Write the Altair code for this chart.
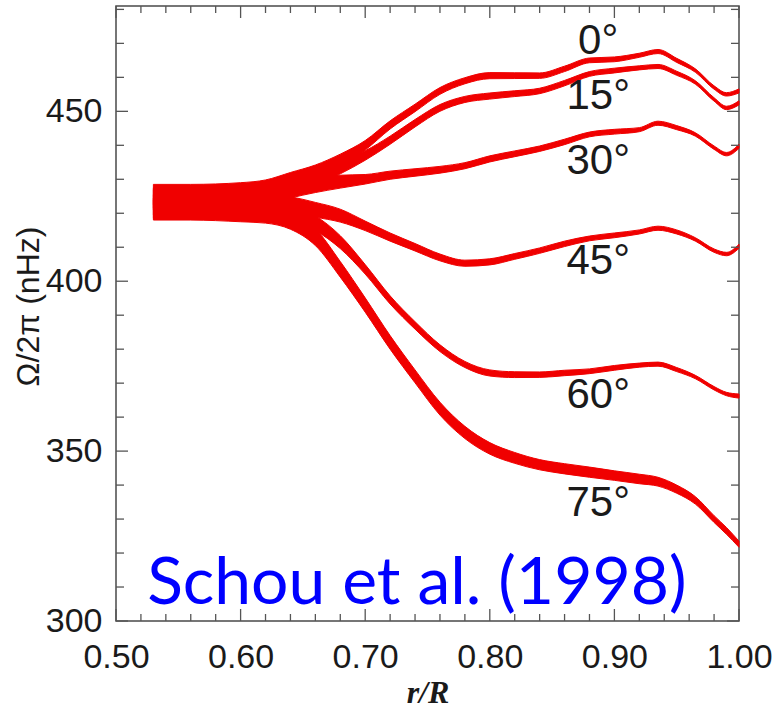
import altair as alt
import pandas as pd

# radius grid (r/R)
r = [0.53, 0.56, 0.60, 0.62, 0.64, 0.66, 0.68, 0.70, 0.72, 0.74, 0.76, 0.78, 0.80,
     0.82, 0.84, 0.86, 0.88, 0.90, 0.92, 0.935, 0.95, 0.965, 0.98, 0.99, 1.00]

# rotation rate Omega/2pi (nHz), band centres per latitude
lat0 = [425.5, 425.5, 426.0, 427.0, 429.5, 432.0, 435.5, 440.0, 446.0, 451.0, 456.0, 459.0, 460.5,
        460.5, 460.5, 462.5, 465.0, 465.3, 466.5, 467.6, 465.0, 462.0, 457.0, 455.0, 456.0]
lat15 = [424.5, 424.5, 425.0, 426.0, 428.0, 430.5, 433.5, 437.0, 441.5, 446.5, 451.0, 453.5, 454.5,
         455.2, 456.0, 458.3, 461.0, 462.0, 462.8, 463.2, 461.2, 458.5, 453.5, 451.0, 452.5]
lat30 = [424.0, 424.0, 424.5, 425.5, 427.0, 428.3, 429.3, 430.0, 431.2, 432.0, 432.8, 434.0, 436.0,
         437.5, 439.0, 441.0, 443.2, 444.0, 444.6, 446.5, 445.2, 443.2, 439.3, 437.4, 439.7]
lat45 = [422.5, 422.5, 422.5, 422.5, 422.3, 421.0, 419.3, 416.3, 413.0, 410.0, 407.0, 405.3, 405.7,
         407.3, 409.0, 411.0, 412.6, 413.5, 414.5, 415.6, 414.5, 412.3, 409.0, 408.0, 410.3]
lat60 = [421.5, 421.5, 421.5, 421.0, 419.5, 417.0, 411.5, 403.5, 394.5, 387.0, 380.3, 375.5, 373.0,
         372.5, 372.5, 373.0, 373.5, 374.5, 375.3, 375.6, 374.0, 371.8, 368.5, 366.8, 366.2]
lat75 = [421.0, 421.0, 420.5, 420.0, 418.0, 413.0, 403.5, 393.0, 382.0, 372.0, 362.5, 355.5, 350.8,
         348.0, 346.0, 344.8, 343.8, 342.8, 341.8, 341.0, 338.8, 335.5, 330.0, 326.5, 322.6]

# half-widths of the uncertainty bands (nHz)
err = [3.0, 3.0, 3.0, 2.8, 2.5, 2.2, 1.9, 1.4, 1.2, 1.1, 1.0, 0.9, 0.9,
       0.85, 0.8, 0.8, 0.7, 0.7, 0.6, 0.6, 0.6, 0.5, 0.5, 0.5, 0.6]
err75 = [3.0, 3.0, 3.0, 2.9, 2.7, 2.5, 2.3, 2.1, 2.0, 1.9, 1.9, 1.8, 1.7,
         1.6, 1.5, 1.5, 1.5, 1.4, 1.4, 1.3, 1.2, 1.1, 1.0, 1.0, 0.9]

latitudes = ["0", "15", "30", "45", "60", "75"]
series = [lat0, lat15, lat30, lat45, lat60, lat75]
errors = [err, err, err, err, err, err75]

# latitude annotations
label_text = ["0°", "15°", "30°", "45°", "60°", "75°"]
label_r = [0.887, 0.887, 0.887, 0.887, 0.887, 0.887]
label_v = [466.8, 450.6, 431.5, 402.1, 362.6, 330.9]

# citation
cite_text = ["Schou et al. (1998)"]
cite_r = [0.525]
cite_v = [304.9]

# axis ticks
x_major = [0.5, 0.6, 0.7, 0.8, 0.9, 1.0]
x_minor = [0.52, 0.54, 0.56, 0.58, 0.62, 0.64, 0.66, 0.68, 0.72, 0.74, 0.76, 0.78,
           0.82, 0.84, 0.86, 0.88, 0.92, 0.94, 0.96, 0.98]
y_major = [300, 350, 400, 450]
y_minor = [310, 320, 330, 340, 360, 370, 380, 390, 410, 420, 430, 440, 460, 470, 480]

rows = []
for lat, vals, e in zip(latitudes, series, errors):
    for ri, v, ei in zip(r, vals, e):
        rows.append({"r": ri, "lat": lat, "lo": v - ei, "hi": v + ei})
df = pd.DataFrame(rows)

labels_df = pd.DataFrame({"text": label_text, "r": label_r, "v": label_v})
cite_df = pd.DataFrame({"text": cite_text, "r": cite_r, "v": cite_v})

RED = "#f00000"
TICK = "#555555"
TXT = "#1a1a1a"
W, H = 623, 615
MAJ, MIN = 12, 7

xscale = alt.Scale(domain=[0.5, 1.0], nice=False, zero=False)
yscale = alt.Scale(domain=[300, 481], nice=False, zero=False)

bands = alt.Chart(df).mark_area(
    interpolate="monotone", color=RED, stroke=RED, strokeWidth=1, opacity=1
).encode(
    x=alt.X("r:Q", scale=xscale, axis=alt.Axis(
        orient="bottom", values=x_major, format=".2f", labelFont="Liberation Sans",
        labelFontSize=34, labelColor=TXT, labelPadding=19, ticks=False, tickSize=0,
        domain=False, grid=False, labelFlush=False, labelOverlap=False,
        title="r/R", titleFont="Liberation Serif", titleFontStyle="italic",
        titleFontWeight="bold", titleFontSize=32, titleColor=TXT,
        titleX=W / 2, titleY=81, titleBaseline="alphabetic", titleAlign="center")),
    y=alt.Y("lo:Q", scale=yscale, axis=alt.Axis(
        orient="left", values=y_major, format="d", labelFont="Liberation Sans",
        labelFontSize=34, labelColor=TXT, labelPadding=14, ticks=False, tickSize=0,
        domain=False, grid=False, labelFlush=False, labelOverlap=False,
        title="Ω/2π (nHz)", titleFont="Liberation Sans", titleFontWeight="normal",
        titleFontSize=32, titleColor=TXT, titleAngle=270, titleX=-88, titleY=300,
        titleAlign="center", titleBaseline="middle")),
    y2="hi:Q",
    detail="lat:N",
)


def yticks(vals, length):
    d = pd.DataFrame({"v": vals})
    left = alt.Chart(d).mark_rule(color=TICK, strokeWidth=1.3).encode(
        y=alt.Y("v:Q", scale=yscale, axis=None), x=alt.value(0), x2=alt.value(length))
    right = alt.Chart(d).mark_rule(color=TICK, strokeWidth=1.3).encode(
        y=alt.Y("v:Q", scale=yscale, axis=None), x=alt.value(W), x2=alt.value(W - length))
    return [left, right]


def xticks(vals, length):
    d = pd.DataFrame({"r": vals})
    bottom = alt.Chart(d).mark_rule(color=TICK, strokeWidth=1.3).encode(
        x=alt.X("r:Q", scale=xscale, axis=None), y=alt.value(H), y2=alt.value(H - length))
    top = alt.Chart(d).mark_rule(color=TICK, strokeWidth=1.3).encode(
        x=alt.X("r:Q", scale=xscale, axis=None), y=alt.value(0), y2=alt.value(length))
    return [bottom, top]


tick_layers = (yticks(y_major, MAJ) + yticks(y_minor, MIN + 1)
               + xticks(x_major, MAJ) + xticks(x_minor, MIN))

lat_labels = alt.Chart(labels_df).mark_text(
    font="Liberation Sans", fontSize=42, color=TXT, align="center", baseline="alphabetic"
).encode(
    x=alt.X("r:Q", scale=xscale, axis=None),
    y=alt.Y("v:Q", scale=yscale, axis=None),
    text="text:N",
)

cite = alt.Chart(cite_df).mark_text(
    font="Lato", fontSize=66, color="#0000ff", align="left", baseline="alphabetic"
).encode(
    x=alt.X("r:Q", scale=xscale, axis=None),
    y=alt.Y("v:Q", scale=yscale, axis=None),
    text="text:N",
)

chart = alt.layer(bands, *tick_layers, lat_labels, cite).resolve_axis(
    x="independent", y="independent"
).properties(
    width=W, height=H,
    padding={"left": 116, "top": 6, "right": 37, "bottom": 89},
    autosize=alt.AutoSizeParams(type="none"),
).configure_view(stroke="#4a4a4a", strokeWidth=1.5)

chart.save("out.html", embed_options={"renderer": "svg", "actions": False})
